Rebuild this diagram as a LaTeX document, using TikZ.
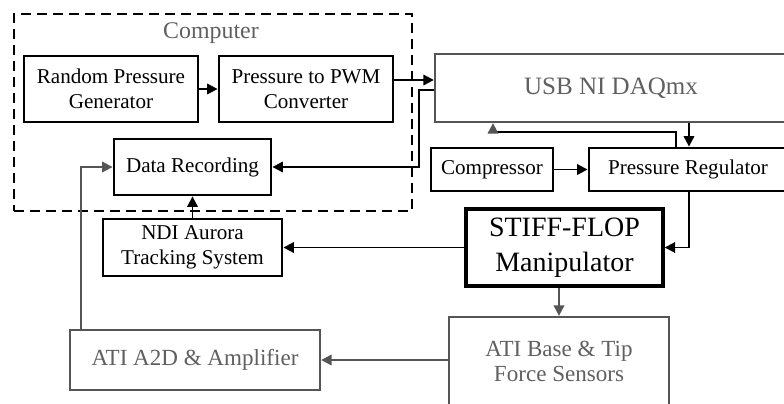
\documentclass[tikz,border=0pt]{standalone}
\usepackage{fontspec}
\setmainfont{Liberation Serif}
\usepackage{tikz}
\usetikzlibrary{arrows.meta, positioning, calc}
\definecolor{boxgray}{HTML}{555555}
\definecolor{textgray}{HTML}{606060}
\tikzset{
  % Box styles
  block/.style={rectangle, draw=black, line width=2pt, fill=white, align=center, inner sep=0pt, font=\fontsize{15}{17.8}\selectfont},
  grayblock/.style={rectangle, draw=boxgray, line width=1.6pt, fill=white, align=center, inner sep=0pt, text=textgray, font=\fontsize{16.4}{17.8}\selectfont},
  group/.style={rectangle, draw=black, line width=1.7pt, dash pattern=on 0.25cm off 0.15cm, inner sep=0pt},
  % Connector styles
  arrow/.style={-{Triangle[length=2.6mm, width=2.6mm]}, line width=1.4pt},
  grayarrow/.style={arrow, draw=boxgray},
}

\begin{document}
\begin{tikzpicture}[x=0.025cm, y=-0.025cm]
    \useasboundingbox (0,0) rectangle (784,403);

    % Computer group
    \node[group, minimum width=9.95cm, minimum height=4.925cm] (computer) at (213,112.5) {};
    \node[text=textgray, font=\fontsize{17}{20}\selectfont] (complabel) at (211,33) {Computer};
    \node[block, minimum width=4.35cm, minimum height=1.65cm] (rpg) at (111,89) {Random Pressure\\Generator};
    \node[block, minimum width=4.35cm, minimum height=1.65cm] (ppwm) at (306,89) {Pressure to PWM\\Converter};
    \node[block, minimum width=3.925cm, minimum height=1.4cm] (rec) at (192.5,167) {Data Recording};

    % DAQ and pneumatics
    \node[grayblock, minimum width=8.8cm, minimum height=1.7cm, font=\fontsize{17.8}{20}\selectfont] (usb) at (611,88) {USB NI DAQmx};
    \node[block, minimum width=3.05cm, minimum height=1.075cm] (comp) at (492,169.5) {Compressor};
    \node[block, minimum width=4.95cm, minimum height=1.075cm] (reg) at (688,169.5) {Pressure Regulator};

    % Manipulator and sensing
    \node[block, line width=2.4pt, minimum width=4.925cm, minimum height=1.925cm, font=\fontsize{19.9}{24.9}\selectfont] (stiff) at (564.5,247.5) {STIFF-FLOP\\Manipulator};
    \node[block, minimum width=4.475cm, minimum height=1.425cm] (ndi) at (192.5,247.5) {NDI Aurora\\Tracking System};
    \node[grayblock, minimum width=5.5cm, minimum height=2.2cm] (sens) at (559,361) {ATI Base \& Tip\\Force Sensors};
    \node[grayblock, minimum width=6.25cm, minimum height=1.5cm] (a2d) at (195,360) {ATI A2D \& Amplifier};

    % Helper points
    \coordinate (pwmout) at ($(ppwm.east)+(0,-9)$);
    \coordinate (regin) at ($(reg.north)+(1,0)$);
    \coordinate (regout) at ($(reg.north)+(-12,0)$);

    % Arrows
    \draw[arrow] (rpg) -- (ppwm);
    \draw[arrow] (pwmout) -- (pwmout -| usb.west);
    \draw[arrow] ($(usb.west)+(0,2)$) -- ++(-15,0) |- (rec.east);
    \draw[arrow] (regin |- usb.south) -- (regin);
    \draw[-{Triangle[length=2.6mm, width=2.6mm, color=boxgray]}, line width=1.4pt] (regout) -- ++(0,-15) -| ($(usb.south)+(-118,0)$);
    \draw[arrow] (comp) -- (reg);
    \draw[arrow] ($(reg.south)+(1,0)$) |- (stiff.east);
    \draw[arrow] (stiff) -- (ndi);
    \draw[arrow] (ndi) -- (rec);
    \draw[grayarrow] (sens.north |- stiff.south) -- (sens.north);
    \draw[grayarrow] (sens.west |- a2d.east) -- (a2d.east);
    \draw[grayarrow] ($(a2d.north west)+(12,0)$) |- (rec.west);
  \end{tikzpicture}
\end{document}
